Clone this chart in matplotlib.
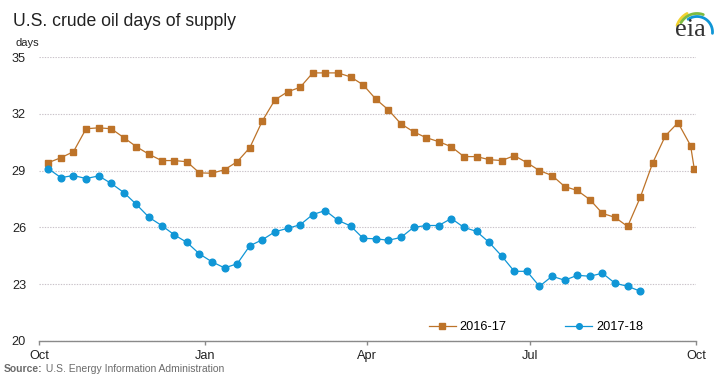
import matplotlib
matplotlib.use("Agg")
import matplotlib.pyplot as plt
import numpy as np
import pandas as pd

plt.rcParams['font.family'] = ['Liberation Sans', 'DejaVu Sans']

# ---- data ----
dates_weekly = list(pd.date_range('2017-10-06', periods=52, freq='7D'))
dates_1617 = dates_weekly + [pd.Timestamp('2018-09-30')]
dates_1718 = dates_weekly[:48]

vals_1617 = [29.42, 29.68, 30.00, 31.21, 31.26, 31.21, 30.74, 30.26, 29.86, 29.53,
             29.53, 29.47, 28.88, 28.86, 29.05, 29.47, 30.21, 31.63, 32.74, 33.16,
             33.40, 34.16, 34.16, 34.16, 33.95, 33.53, 32.78, 32.21, 31.47, 31.05,
             30.74, 30.53, 30.26, 29.74, 29.74, 29.58, 29.53, 29.79, 29.42, 29.00,
             28.74, 28.16, 27.95, 27.47, 26.74, 26.53, 26.05, 27.58, 29.42, 30.84,
             31.53, 30.32, 29.11]
vals_1718 = [29.10, 28.63, 28.74, 28.58, 28.72, 28.32, 27.84, 27.21, 26.53, 26.10,
             25.61, 25.21, 24.60, 24.18, 23.86, 24.08, 25.03, 25.35, 25.77, 25.95,
             26.14, 26.68, 26.89, 26.37, 26.08, 25.42, 25.40, 25.32, 25.47, 26.00,
             26.10, 26.10, 26.47, 26.00, 25.79, 25.21, 24.49, 23.68, 23.68, 22.89,
             23.42, 23.21, 23.47, 23.42, 23.58, 23.05, 22.89, 22.63]

labels = ['2016-17', '2017-18']
yticks = [20, 23, 26, 29, 32, 35]
xtick_dates = ['2017-10-01', '2018-01-01', '2018-04-01', '2018-07-01', '2018-10-01']
xtick_labels = ['Oct', 'Jan', 'Apr', 'Jul', 'Oct']

title = 'U.S. crude oil days of supply'
unit = 'days'
source_bold = 'Source:'
source_rest = ' U.S. Energy Information Administration'

orange = '#BD7329'
blue = '#1096D6'

W, H = 719, 384
fig = plt.figure(figsize=(W / 100, H / 100), dpi=100)
fig.patch.set_facecolor('white')

def fx(px):
    return px / W

def fy(py):
    return 1 - py / H

ax_l, ax_r, ax_t, ax_b = 39.3, 696.0, 57.0, 341.0
ax = fig.add_axes([fx(ax_l), fy(ax_b), fx(ax_r - ax_l), (ax_b - ax_t) / H])

ax.plot(dates_1617, vals_1617, color=orange, lw=0.9, marker='s', ms=4.6,
        mfc=orange, mec=orange, label=labels[0])
ax.plot(dates_1718, vals_1718, color=blue, lw=0.9, marker='o', ms=4.8,
        mfc=blue, mec=blue, label=labels[1])

ax.set_xlim(pd.Timestamp(xtick_dates[0]), pd.Timestamp(xtick_dates[-1]))
ax.set_ylim(20, 35)
ax.set_yticks(yticks)
ax.set_xticks([pd.Timestamp(d) for d in xtick_dates])
ax.set_xticklabels(xtick_labels)

for s in ['top', 'right', 'left']:
    ax.spines[s].set_visible(False)
ax.spines['bottom'].set_color('#8a8a8a')
ax.spines['bottom'].set_linewidth(1.0)

ax.grid(axis='y', color='#c9c2c9', linestyle=(0, (1.2, 1.2)), linewidth=0.8)
ax.grid(axis='x', visible=False)
ax.set_axisbelow(True)

ax.tick_params(axis='y', length=0, pad=9.5, labelsize=9.2, labelcolor='#222222')
ax.tick_params(axis='x', length=3, width=1, color='#8a8a8a', direction='out',
               pad=3.2, labelsize=9.2, labelcolor='#222222')

leg = ax.legend(loc='center', bbox_to_anchor=((536 - ax_l) / (ax_r - ax_l), (ax_b - 327) / (ax_b - ax_t)),
                ncol=2, frameon=False, fontsize=9.2, handlelength=2.1, columnspacing=4.6,
                handletextpad=0.3, markerscale=0.85)

fig.text(fx(13), fy(26), title, fontsize=12.7, color='#222222', va='baseline', ha='left')
fig.text(fx(15), fy(45.5), unit, fontsize=8, color='#222222', va='baseline', ha='left')

t1 = fig.text(fx(4), fy(372), source_bold, fontsize=7.5, color='#6b6b6b',
              fontweight='bold', va='baseline', ha='left')
fig.canvas.draw()
bb = t1.get_window_extent(renderer=fig.canvas.get_renderer())
fig.text(bb.x1 / W, fy(372), source_rest, fontsize=7.5, color='#6b6b6b',
         va='baseline', ha='left')

# ---- eia logo ----
lg = fig.add_axes([fx(660), fy(45), fx(59), 45 / H])
lg.set_xlim(660, 719)
lg.set_ylim(45, 0)
lg.axis('off')
cx, cy = 697, 32
for r, a0, a1, col in [(21, 118, 162, '#F2D22E'), (18.5, 70, 150, '#7DBB42'), (15.5, -5, 125, '#1096D6')]:
    t = np.radians(np.linspace(a0, a1, 60))
    lg.plot(cx + r * np.cos(t), cy - r * np.sin(t), color=col, lw=2.0, solid_capstyle='round')
lg.text(690, 30.5, 'eia', family=['Liberation Serif', 'DejaVu Serif'], fontsize=19,
        color='#333333', ha='center', va='center')

fig.savefig('out.png', dpi=100, facecolor='white')
